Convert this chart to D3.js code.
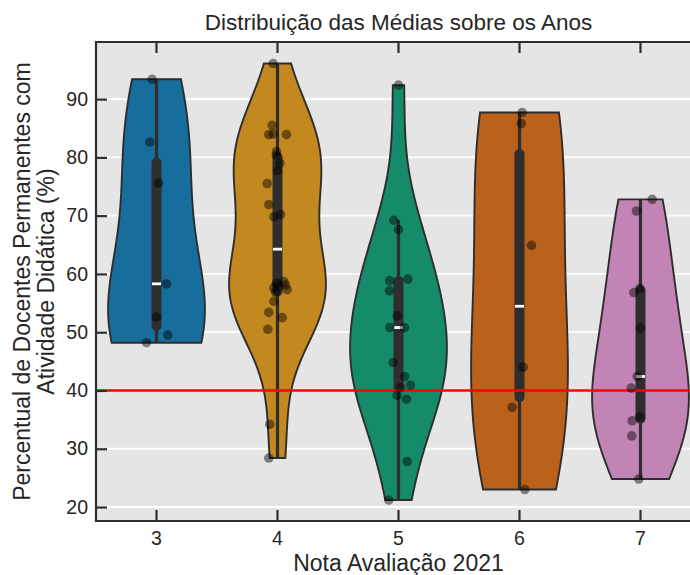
<!DOCTYPE html>
<html>
<head>
<meta charset="utf-8">
<script src="https://cdn.jsdelivr.net/npm/d3@7"></script>
<style>
  html, body { margin: 0; padding: 0; background: #ffffff; }
  svg { display: block; font-family: "Liberation Sans", Arial, sans-serif; }
</style>
</head>
<body>
<svg id="chart" width="690" height="575"></svg>
<script>
// Evaluation grades (categories)
const categories = ["3", "4", "5", "6", "7"];

// Percentage of permanent faculty with teaching activity, per programme, by grade
const values3 = [93.4, 82.6, 75.6, 58.3, 52.6, 49.5, 48.2];
const values4 = [96.1, 85.5, 84.0, 83.9, 83.9, 81.0, 80.4, 79.0, 77.7, 75.5, 71.9, 70.2, 69.8,
                 58.7, 58.4, 58.1, 57.9, 57.6, 57.3, 56.9, 55.3, 53.4, 52.5, 50.5, 34.2, 28.4];
const values5 = [92.4, 69.2, 67.6, 59.1, 58.8, 57.1, 52.8, 50.8, 50.8, 44.8, 42.4, 40.9, 40.5,
                 39.2, 38.5, 27.8, 21.2];
const values6 = [87.7, 85.8, 64.9, 44.0, 37.1, 23.0];
const values7 = [72.8, 70.8, 57.5, 56.8, 50.7, 42.4, 40.4, 35.5, 34.8, 32.2, 24.8];

// Horizontal jitter of each strip point, in category units
const jitter3 = [-0.036, -0.055, 0.017, 0.083, 0.0, 0.093, -0.083];
const jitter4 = [-0.036, -0.044, -0.036, -0.072, 0.074, -0.008, -0.01, 0.02, 0.0, -0.085, -0.072, 0.025, -0.03,
                 0.052, -0.008, 0.066, 0.01, -0.03, 0.08, -0.016, -0.03, -0.072, 0.039, -0.08, -0.064, -0.072];
const jitter5 = [0.0, -0.039, 0.0, 0.077, -0.072, -0.074, -0.011, -0.072, 0.05, -0.044, 0.05, 0.099, 0.017,
                 -0.011, 0.066, 0.072, -0.08];
const jitter6 = [0.022, 0.014, 0.099, 0.031, -0.061, 0.044];
const jitter7 = [0.097, -0.033, -0.006, -0.055, 0.0, -0.027, -0.077, -0.006, -0.069, -0.072, -0.014];

// Axis ticks and reference level
const yTicks = [20, 30, 40, 50, 60, 70, 80, 90];
const referenceLevel = 40;

// Palette (seaborn "colorblind")
const palette = ["#0173b2", "#de8f05", "#029e73", "#d55e00", "#cc78bc"];

const titleText = "Distribuição das Médias sobre os Anos";
const xLabelText = "Nota Avaliação 2021";
const yLabelLines = ["Percentual de Docentes Permanentes com", "Atividade Didática (%)"];

// ---------------------------------------------------------------------------
const groups = categories.map((c, i) => ({
  cat: c,
  values: [values3, values4, values5, values6, values7][i],
  jitter: [jitter3, jitter4, jitter5, jitter6, jitter7][i],
  color: palette[i]
}));

const svg = d3.select("#chart");
const plot = { left: 96, right: 701, top: 42, bottom: 521 };
const ink = "#2e2e2e";
const textInk = "#262626";
const fontFamily = "Liberation Sans, Arial, sans-serif";

const x = d3.scaleBand().domain(categories).range([plot.left, plot.right]).padding(0);
const y = d3.scaleLinear().domain([17.6, 99.8]).range([plot.bottom, plot.top]);
const step = x.bandwidth();
const cx = c => x(c) + step / 2;

// softened fill, as seaborn does with saturation = 0.75
function desaturate(c, prop) {
  const h = d3.hsl(c);
  h.s *= prop;
  return h.formatHex();
}

// Gaussian KDE with Scott's rule, evaluated between the data extremes
function kde(vals, n) {
  const sd = d3.deviation(vals);
  const bw = sd * Math.pow(vals.length, -1 / 5);
  const lo = d3.min(vals), hi = d3.max(vals);
  const grid = d3.range(n).map(i => lo + (hi - lo) * i / (n - 1));
  return grid.map(g => {
    let s = 0;
    for (const v of vals) {
      const z = (g - v) / bw;
      s += Math.exp(-0.5 * z * z);
    }
    return [g, s / (vals.length * bw * Math.sqrt(2 * Math.PI))];
  });
}

svg.append("defs").append("clipPath").attr("id", "plotClip")
  .append("rect")
  .attr("x", plot.left).attr("y", plot.top)
  .attr("width", plot.right - plot.left).attr("height", plot.bottom - plot.top);

// background panel
svg.append("rect")
  .attr("x", plot.left).attr("y", plot.top)
  .attr("width", plot.right - plot.left).attr("height", plot.bottom - plot.top)
  .attr("fill", "#e5e5e5");

// grid lines
svg.append("g").selectAll("line").data(yTicks).join("line")
  .attr("x1", plot.left).attr("x2", plot.right)
  .attr("y1", d => y(d)).attr("y2", d => y(d))
  .attr("stroke", "#ffffff").attr("stroke-width", 1.8);

const body = svg.append("g").attr("clip-path", "url(#plotClip)");

// violins with inner box
groups.forEach(g => {
  const dens = kde(g.values, 100);
  const maxD = d3.max(dens, d => d[1]);
  const half = 0.4 * step;
  const w = d3.scaleLinear().domain([0, maxD]).range([0, half]);
  const c = cx(g.cat);

  const area = d3.area()
    .y(d => y(d[0]))
    .x0(d => c - w(d[1]))
    .x1(d => c + w(d[1]));

  body.append("path")
    .datum(dens)
    .attr("d", area)
    .attr("fill", desaturate(g.color, 0.75))
    .attr("stroke", ink)
    .attr("stroke-width", 1.9)
    .attr("stroke-linejoin", "miter");

  const sorted = g.values.slice().sort(d3.ascending);
  const q1 = d3.quantile(sorted, 0.25);
  const med = d3.quantile(sorted, 0.5);
  const q3 = d3.quantile(sorted, 0.75);
  const iqr = q3 - q1;
  const loW = d3.min(sorted.filter(v => v >= q1 - 1.5 * iqr));
  const hiW = d3.max(sorted.filter(v => v <= q3 + 1.5 * iqr));

  body.append("line")
    .attr("x1", c).attr("x2", c)
    .attr("y1", y(loW)).attr("y2", y(hiW))
    .attr("stroke", ink).attr("stroke-width", 3.2);

  body.append("line")
    .attr("x1", c).attr("x2", c)
    .attr("y1", y(q1)).attr("y2", y(q3))
    .attr("stroke", ink).attr("stroke-width", 10)
    .attr("stroke-linecap", "round");

  body.append("rect")
    .attr("x", c - 4.5).attr("y", y(med) - 1.4)
    .attr("width", 9).attr("height", 2.8)
    .attr("fill", "#ffffff");
});

// reference level
body.append("line")
  .attr("x1", plot.left).attr("x2", plot.right)
  .attr("y1", y(referenceLevel)).attr("y2", y(referenceLevel))
  .attr("stroke", "#ff0000").attr("stroke-width", 2.4);

// strip points
groups.forEach(g => {
  body.append("g").selectAll("circle")
    .data(g.values.map((v, i) => ({ v, j: g.jitter[i] })))
    .join("circle")
    .attr("cx", d => cx(g.cat) + d.j * step)
    .attr("cy", d => y(d.v))
    .attr("r", 4.8)
    .attr("fill", "#000000")
    .attr("fill-opacity", 0.45);
});

// frame (open on the right, where the panel runs past the page edge)
svg.append("path")
  .attr("d", `M${plot.right + 5},${plot.top}H${plot.left}V${plot.bottom}H${plot.right + 5}`)
  .attr("fill", "none").attr("stroke", ink).attr("stroke-width", 2.2);

// axes with inward ticks
const tickLen = 11;
const yAxis = d3.axisLeft(y).tickValues(yTicks).tickSize(-tickLen).tickPadding(8);
const gy = svg.append("g").attr("transform", `translate(${plot.left},0)`).call(yAxis);
gy.select(".domain").remove();
gy.selectAll(".tick line").attr("stroke", ink).attr("stroke-width", 2.2);
gy.selectAll(".tick text").attr("font-size", 19.5).attr("fill", textInk)
  .attr("font-family", fontFamily);

const xAxis = d3.axisBottom(x).tickSize(-tickLen).tickPadding(10);
const gx = svg.append("g").attr("transform", `translate(0,${plot.bottom})`).call(xAxis);
gx.select(".domain").remove();
gx.selectAll(".tick line").attr("stroke", ink).attr("stroke-width", 2.2);
gx.selectAll(".tick text").attr("font-size", 19.5).attr("fill", textInk)
  .attr("font-family", fontFamily);

const xTop = d3.axisTop(x).tickSize(-tickLen).tickFormat("");
const gt = svg.append("g").attr("transform", `translate(0,${plot.top})`).call(xTop);
gt.select(".domain").remove();
gt.selectAll(".tick line").attr("stroke", ink).attr("stroke-width", 2.2);

// titles
const midX = (plot.left + plot.right) / 2;
svg.append("text")
  .attr("x", midX).attr("y", 30)
  .attr("text-anchor", "middle")
  .attr("font-size", 22.5).attr("fill", textInk)
  .text(titleText);

svg.append("text")
  .attr("x", midX).attr("y", 571)
  .attr("text-anchor", "middle")
  .attr("font-size", 23).attr("fill", textInk)
  .text(xLabelText);

const midY = (plot.top + plot.bottom) / 2;
const yl = svg.append("text")
  .attr("transform", `translate(30,${midY}) rotate(-90)`)
  .attr("text-anchor", "middle")
  .attr("font-size", 23).attr("fill", textInk);
yl.selectAll("tspan").data(yLabelLines).join("tspan")
  .attr("x", 0).attr("dy", (d, i) => i === 0 ? 0 : 24)
  .text(d => d);
</script>
</body>
</html>
